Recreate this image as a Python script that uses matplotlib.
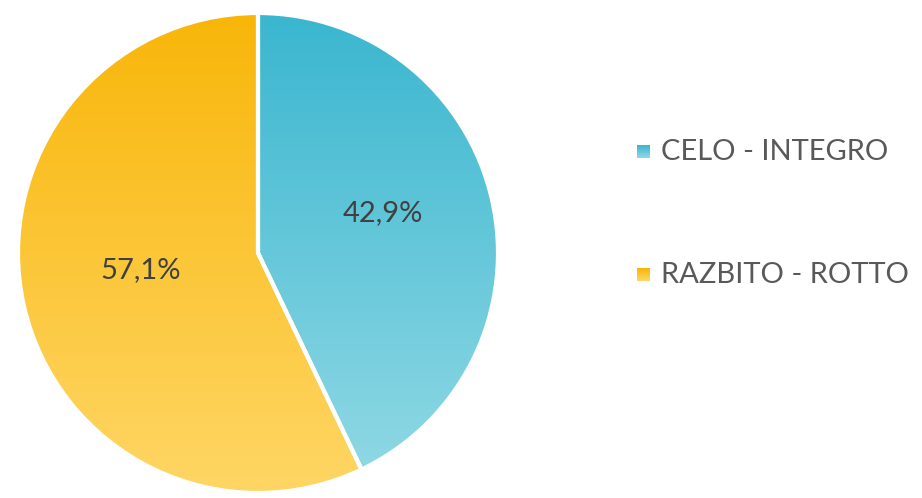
import numpy as np
import matplotlib
matplotlib.use("Agg")
import matplotlib.pyplot as plt
from matplotlib.colors import LinearSegmentedColormap

labels = ["CELO - INTEGRO", "RAZBITO - ROTTO"]
values = [42.9, 57.1]
top_colors = ["#3AB6CF", "#F8B609"]
bottom_colors = ["#8ED8E4", "#FFD665"]

plt.rcParams['font.family'] = ['Lato', 'DejaVu Sans']

fig = plt.figure(figsize=(9.22, 4.98), dpi=100)
ax = fig.add_axes([0, 0, 1, 1])

cx, cy, r = 258, 245, 240
wedges, _ = ax.pie(values, startangle=90, counterclock=False, center=(cx, cy),
                   radius=r, frame=True,
                   wedgeprops=dict(edgecolor='white', linewidth=3))

grad = np.linspace(0, 1, 256).reshape(-1, 1)
for w, c0, c1 in zip(wedges, top_colors, bottom_colors):
    w.set_facecolor('none')
    bb = w.get_path().get_extents(w.get_patch_transform())
    cmap = LinearSegmentedColormap.from_list('g', [c0, c1])
    im = ax.imshow(grad, cmap=cmap, aspect='auto', origin='upper',
                   extent=[bb.x0, bb.x1, bb.y0, bb.y1], zorder=1)
    im.set_clip_path(w)
    w.set_zorder(2)

# percentage labels (placed at offsets from the centre, like the original)
label_offsets = [(125, 40), (-117, -17)]
for v, (dx, dy) in zip(values, label_offsets):
    ax.text(cx + dx, cy + dy, f"{v:.1f}%".replace('.', ','), ha='center', va='center',
            fontsize=21, color='#404040', zorder=3)

# legend
for i, (lab, c0, c1) in enumerate(zip(labels, top_colors, bottom_colors)):
    ly = 498 - (152 + i * 123)
    sq = np.linspace(0, 1, 16).reshape(-1, 1)
    cmap = LinearSegmentedColormap.from_list('s', [c0, c1])
    ax.imshow(sq, cmap=cmap, aspect='auto', origin='upper',
              extent=[637, 650, ly - 6.5, ly + 6.5], zorder=3)
    ax.text(661, ly, lab, ha='left', va='center', fontsize=21, color='#595959')

ax.set_xlim(0, 922)
ax.set_ylim(0, 498)
ax.set_aspect('equal')
ax.axis('off')
fig.savefig("out.png", dpi=100)
